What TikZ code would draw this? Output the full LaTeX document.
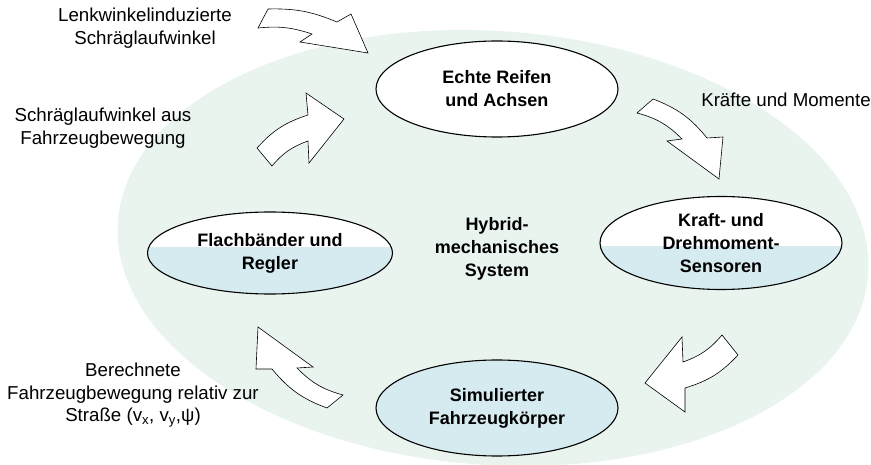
\documentclass[tikz,border=0pt]{standalone}
\usepackage{fontspec}
\setmainfont{Liberation Sans}
\usepackage{tikz}
\usetikzlibrary{shapes.geometric,positioning}

\definecolor{bggreen}{RGB}{233,244,239}
\definecolor{sensorblue}{RGB}{213,235,240}

\begin{document}
\begin{tikzpicture}[
  x=1pt, y=-1pt,
  part/.style={ellipse, draw, line width=1.1pt, fill=white, align=center, inner sep=0pt,
    minimum width=242pt, minimum height=96pt, font=\bfseries\fontsize{18}{23}\selectfont},
  halfpart/.style={part, path picture={\fill[sensorblue] ([yshift=#1]path picture bounding box.west) rectangle (path picture bounding box.south east);}},
  note/.style={align=center, font=\fontsize{18.7}{22.5}\selectfont},
  bigarrow/.style={draw, fill=white, line width=0.6pt}
]
\useasboundingbox (0,0) rectangle (871,465);

% system background
\fill[bggreen, rotate around={-4:(493,248)}] (493,248) ellipse [x radius=376, y radius=217];

% block arrows
\draw[bigarrow] (258,28) -- (268,9) to[bend left=12] (337,22) -- (351,14) -- (368,53) -- (300,42) -- (312,34) to[bend right=12] (258,28) -- cycle;
\draw[bigarrow] (344,119) -- (306,93) -- (308,115) to[bend right=15] (257,148) -- (272,166) to[bend left=15] (308,141) -- (309,163) -- cycle;
\draw[bigarrow] (637,113) -- (653,99) to[bend left=15] (707,138) -- (723,137) -- (719,179) -- (667,141) -- (682,139) to[bend right=15] (637,113) -- cycle;
\draw[bigarrow] (722,335) -- (738,355) to[bend left=15] (685,388) -- (685,412) -- (645,383) -- (682,337) -- (683,362) to[bend right=15] (722,335) -- cycle;
\draw[bigarrow] (258,327) -- (313,367) -- (297,368) to[bend right=15] (343,395) -- (327,408) to[bend left=15] (272,369) -- (256,369) -- cycle;

% parts of the loop
\node[part] (tyres) at (497,89) {Echte Reifen\\und Achsen};
\node[halfpart=-3pt, minimum height=93pt] (sensors) at (721,243) {Kraft- und\\Drehmoment-\\Sensoren};
\node[halfpart=6pt, minimum width=245pt, minimum height=82pt] (belts) at (270,253) {Flachbänder und\\Regler};
\node[part, fill=sensorblue] (body) at (497,408) {Simulierter\\Fahrzeugkörper};
\node[align=center, font=\bfseries\fontsize{18}{23}\selectfont] (hybrid) at (497,249) {Hybrid-\\mechanisches\\System};

% labels
\node[note] (steerlbl) at (145,28) {Lenkwinkelinduzierte\\Schräglaufwinkel};
\node[note] (sliplbl) at (103,128) {Schräglaufwinkel aus\\Fahrzeugbewegung};
\node[note] (forcelbl) at (786,100) {Kräfte und Momente};
\node[note] (motionlbl) at (133,395) {Berechnete\\Fahrzeugbewegung relativ zur\\Straße (v\textsubscript{x}, v\textsubscript{y},ψ)};
\end{tikzpicture}
\end{document}
